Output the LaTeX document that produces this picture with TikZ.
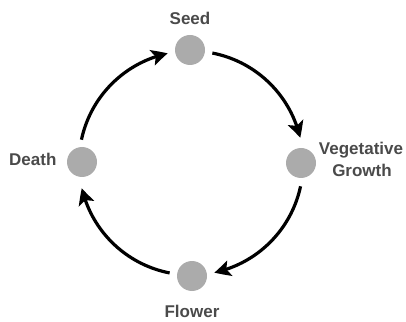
\documentclass[tikz,border=0pt]{standalone}
\usepackage{fontspec}
\setmainfont{Liberation Sans}
\usetikzlibrary{arrows.meta,bending,calc}
\definecolor{dotgray}{HTML}{ABABAB}
\definecolor{txtgray}{HTML}{4A4A4A}
\begin{document}
\begin{tikzpicture}[x=1pt,y=1pt,
  stage/.style={circle,fill=dotgray,minimum size=30pt,inner sep=0pt},
  lbl/.style={font=\fontsize{17}{22}\selectfont\bfseries,text=txtgray,inner sep=0pt},
  cyc/.style={line width=3.2pt,-{Stealth[length=16pt,width=16pt,inset=3.5pt,bend]}}]
\useasboundingbox (0,0) rectangle (406,321);
\coordinate (c) at (191,158);
\node[stage] (seed) at (190,271) {};
\node[stage] (veg) at (301,158) {};
\node[stage] (flower) at (192,45) {};
\node[stage] (death) at (82,159) {};
\node[lbl,anchor=base] (seedl) at (190,296) {Seed};
\node[lbl,anchor=base] (vegl1) at (361,166) {Vegetative};
\node[lbl,anchor=base] (vegl2) at (362,144) {Growth};
\node[lbl,anchor=base] (flowerl) at (192,4) {Flower};
\node[lbl,anchor=base west] (deathl) at (9,155) {Death};
\coordinate (a1) at ($(c)+(79:112)$);
\coordinate (a2) at ($(c)+(-12:112)$);
\coordinate (a3) at ($(c)+(-101:112)$);
\coordinate (a4) at ($(c)+(168:112)$);
\draw[cyc] (a1) arc[start angle=79,end angle=13,radius=112];
\draw[cyc] (a2) arc[start angle=-12,end angle=-78,radius=112];
\draw[cyc] (a3) arc[start angle=-101,end angle=-167,radius=112];
\draw[cyc] (a4) arc[start angle=168,end angle=102,radius=112];
\end{tikzpicture}
\end{document}
